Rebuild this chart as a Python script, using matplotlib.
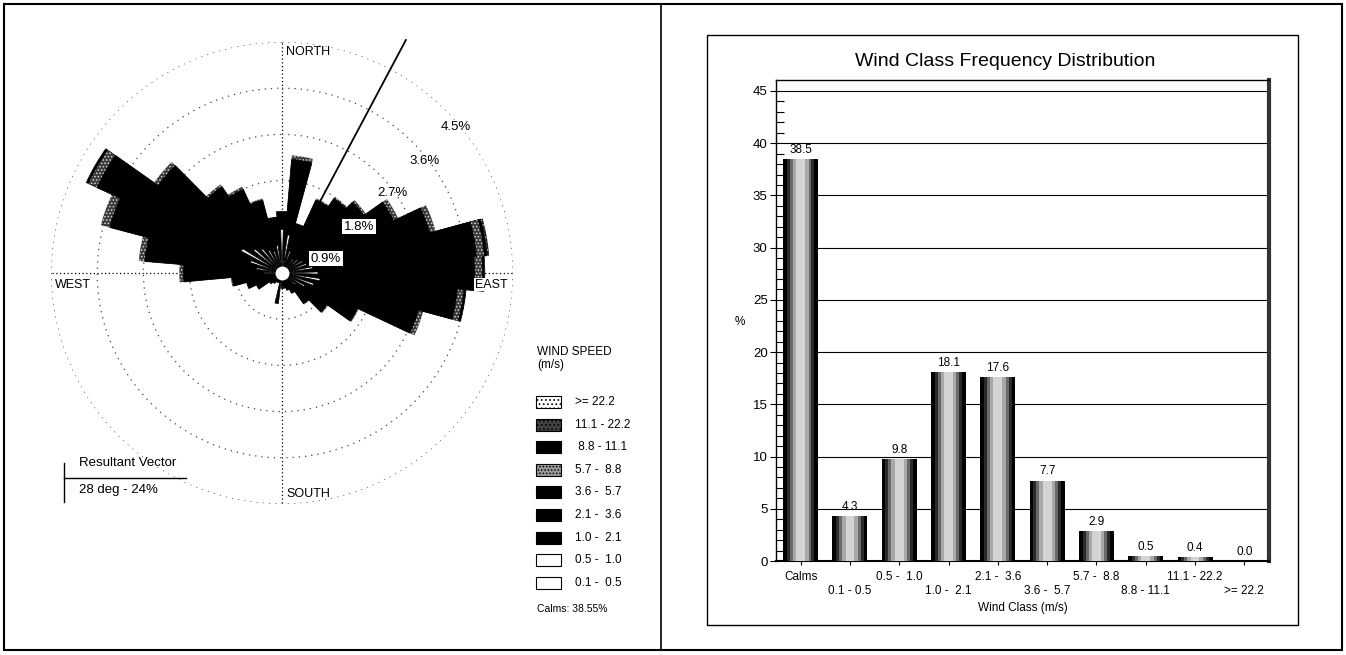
import numpy as np
import matplotlib
matplotlib.use("Agg")
import matplotlib.pyplot as plt
from matplotlib.patches import Rectangle
from matplotlib.lines import Line2D

plt.rcParams['font.family'] = ['Liberation Sans', 'DejaVu Sans']
plt.rcParams['hatch.linewidth'] = 0.7

W, H = 1346, 655

# ---- wind rose data: 36 directions, % per speed class ----
directions = np.arange(0, 360, 10)
c01_05 = [.35, .30, .15, .10, .10, .10, .15, .15, .20, .25, .25, .20, .15, .10, .05, .03, .02, .02,
          .02, .02, .02, .02, .02, .02, .02, .02, .02, .10, .15, .20, .30, .20, .20, .15, .15, .20]
c05_10 = [.50, .45, .30, .25, .25, .30, .30, .35, .40, .45, .50, .45, .35, .25, .15, .07, .03, .03,
          .03, .03, .03, .03, .03, .03, .03, .03, .03, .25, .35, .45, .60, .50, .40, .35, .30, .35]
c10_21 = [.15, .45, .25, .35, .40, .40, .50, .60, .80, .80, .70, .55, .35, .25, .20, .15, .15, .12,
          .25, .55, .08, .08, .10, .12, .20, .25, .35, .45, .55, .70, .75, .60, .45, .40, .35, .25]
c21_36 = [.15, .55, .20, .50, .55, .60, .75, .95, 1.2, 1.15, 1.0, .80, .45, .30, .20, .12, .10, .08,
          0, 0, .05, .05, .07, .08, .20, .25, .35, .60, .80, 1.0, 1.1, .85, .55, .50, .40, .20]
c36_57 = [.05, .47, .10, .37, .47, .55, .70, .93, 1.20, 1.10, .98, .75, .32, .17, .13, .06, .05, .05,
          0, 0, .02, .02, .03, .05, .10, .16, .22, .52, .83, 1.12, 1.22, .80, .45, .40, .27, .09]
c57_88 = [0, .08, 0, .03, .03, .05, .10, .12, .15, .15, .12, .10, .03, .03, .02, .02, 0, 0,
          0, 0, 0, 0, 0, 0, 0, .01, .03, .08, .12, .18, .18, .10, .05, .05, .03, .01]
c88_111 = [0, 0, 0, 0, 0, 0, 0, 0, .05, .05, .05, 0, 0, 0, 0, 0, 0, 0,
           0, 0, 0, 0, 0, 0, 0, 0, 0, 0, 0, 0, .05, 0, 0, 0, 0, 0]
c111_222 = [0, 0, 0, 0, 0, 0, 0, 0, .05, 0, 0, 0, 0, 0, 0, 0, 0, 0,
            0, 0, 0, 0, 0, 0, 0, 0, 0, 0, 0, 0, 0, 0, 0, 0, 0, 0]
c222 = [0] * 36

rose_classes = [c01_05, c05_10, c10_21, c21_36, c36_57, c57_88, c88_111, c111_222, c222]
legend_labels = ['>= 22.2', '11.1 - 22.2', ' 8.8 - 11.1', '5.7 -  8.8', '3.6 -  5.7',
                 '2.1 -  3.6', '1.0 -  2.1', '0.5 -  1.0', '0.1 -  0.5']
ring_values = [0.9, 1.8, 2.7, 3.6, 4.5]
resultant_deg = 28
resultant_len = 5.14
calms_text = 'Calms: 38.55%'

# ---- bar chart data ----
wind_classes = ['Calms', '0.1 - 0.5', '0.5 -  1.0', '1.0 -  2.1', '2.1 -  3.6',
                '3.6 -  5.7', '5.7 -  8.8', '8.8 - 11.1', '11.1 - 22.2', '>= 22.2']
class_freq = [38.5, 4.3, 9.8, 18.1, 17.6, 7.7, 2.9, 0.5, 0.4, 0.0]


def fx(x):
    return x / W


def fy(y):
    return 1 - y / H


fig = plt.figure(figsize=(W / 100, H / 100), dpi=100)

# class styles (inner -> outer)
widths = [2.6, 3.4, 6.5, 8.5, 10.4, 10.4, 10.4, 10.4, 10.4]
faces = ['white', 'white', 'black', 'black', 'black', '#3a3a3a', 'black', '#202020', 'white']
hatch_col = ['black', 'black', 'black', 'black', 'black', '#d8d8d8', 'black', '#9a9a9a', 'black']
hatches = [None, None, None, None, None, '.....', None, '....', '....']

# ---- wind rose ----
R = 231
cx, cy = 282, 273
ax = fig.add_axes([fx(cx - R), fy(cy + R), 2 * R / W, 2 * R / H], projection='polar')
ax.set_theta_zero_location('N')
ax.set_theta_direction(-1)
ax.set_ylim(0, 4.5)
ax.set_axisbelow(True)
ax.spines['polar'].set_visible(False)
ax.set_rgrids(ring_values, labels=[''] * 5)
ax.set_thetagrids([0, 90, 180, 270], labels=[''] * 4)
ax.yaxis.grid(True, color='#444444', linestyle=(0, (1, 4)), linewidth=0.9)
ax.xaxis.grid(True, color='black', linestyle=(0, (1, 2)), linewidth=0.9)

theta = np.deg2rad(directions)
cum = np.cumsum(np.array(rose_classes, dtype=float), axis=0)
for k in range(len(rose_classes) - 1, -1, -1):
    vals = np.array(rose_classes[k])
    heights = np.where(vals > 0, cum[k], 0)
    if hatches[k]:
        ax.bar(theta, heights, width=np.deg2rad(widths[k]), bottom=0, color=faces[k],
               edgecolor=hatch_col[k], linewidth=0, hatch=hatches[k], zorder=3)
    else:
        ax.bar(theta, heights, width=np.deg2rad(widths[k]), bottom=0,
               color=faces[k], edgecolor='black', linewidth=0.5, zorder=3)

ax.plot([np.deg2rad(resultant_deg)] * 2, [0, resultant_len], color='black', lw=1.3,
        clip_on=False, zorder=5)
ax.plot([0], [0], 'o', ms=9, mfc='white', mec='white', zorder=6)

# ring labels
lab_bearing = [72, 59, 54, 52, 50]
lab_r = [0.9, 1.75, 2.65, 3.53, 4.43]
for v, b, r in zip(ring_values, lab_bearing, lab_r):
    box = dict(fc='white', ec='none', pad=1) if v < 2 else None
    ax.text(np.deg2rad(b), r, f'{v:.1f}%', ha='center', va='center', fontsize=9.5,
            bbox=box, zorder=7)

ax.annotate('NORTH', xy=(0, 4.3), xytext=(3, 0), textcoords='offset points',
            ha='left', va='center', fontsize=9)
ax.annotate('WEST', xy=(np.deg2rad(270), 4.5), xytext=(3, -4), textcoords='offset points',
            ha='left', va='top', fontsize=9)
ax.annotate('EAST', xy=(np.deg2rad(90), 4.5), xytext=(-4, -4), textcoords='offset points',
            ha='right', va='top', fontsize=9, zorder=8,
            bbox=dict(fc='white', ec='none', pad=0.5))
ax.annotate('SOUTH', xy=(np.deg2rad(180), 4.5), xytext=(3, 3), textcoords='offset points',
            ha='left', va='bottom', fontsize=9)

# resultant vector key
fig.add_artist(Line2D([fx(64), fx(64)], [fy(463), fy(502)], color='black', lw=1))
fig.add_artist(Line2D([fx(64), fx(186)], [fy(478), fy(478)], color='black', lw=1))
fig.text(fx(79), fy(463), 'Resultant Vector', ha='left', va='center', fontsize=9.5)
fig.text(fx(79), fy(490), f'{resultant_deg} deg - 24%', ha='left', va='center', fontsize=9.5)

# speed legend
fig.text(fx(537), fy(352), 'WIND SPEED', ha='left', va='center', fontsize=8.5)
fig.text(fx(537), fy(365), '(m/s)', ha='left', va='center', fontsize=8.5)
leg_faces = ['white', '#404040', 'black', '#9a9a9a', 'black', 'black', 'black', 'white', 'white']
leg_hatch = ['....', '....', None, '.....', None, None, None, None, None]
for i, lab in enumerate(legend_labels):
    yc = 402 + i * 22.6
    fig.add_artist(Rectangle((fx(536), fy(yc + 6)), 25 / W, 12 / H, facecolor=leg_faces[i],
                             edgecolor='black', linewidth=0.8, hatch=leg_hatch[i]))
    fig.text(fx(575), fy(yc), lab, ha='left', va='center', fontsize=8.5)
fig.text(fx(537), fy(609), calms_text, ha='left', va='center', fontsize=7.5)

# ---- bar chart ----
ax2 = fig.add_axes([fx(776), fy(561), (1269 - 776) / W, (561 - 80) / H])
x = np.arange(len(wind_classes))
layers = [(0.71, 'black'), (0.56, '#2a2a2a'), (0.44, '#6a6a6a'), (0.32, '#a8a8a8'), (0.18, '#d4d4d4')]
for w, c in layers:
    ax2.bar(x, class_freq, width=w, color=c, linewidth=0, zorder=3)
for xi, v in zip(x, class_freq):
    ax2.text(xi, v + 0.3, f'{v:.1f}', ha='center', va='bottom', fontsize=8.5, zorder=4)

ax2.set_xlim(-0.5, len(wind_classes) - 0.5)
ax2.set_ylim(0, 46.05)
ax2.set_yticks(np.arange(0, 46, 5))
ax2.set_yticks(np.arange(0, 46, 1), minor=True)
ax2.tick_params(axis='y', which='major', direction='out', length=4, labelsize=9.5, pad=2)
ax2.tick_params(axis='y', which='minor', direction='in', length=6, width=0.8)
ax2.set_xticks(x)
ax2.set_xticklabels([l if i % 2 == 0 else '\n' + l for i, l in enumerate(wind_classes)],
                    fontsize=8.5, linespacing=1.2)
ax2.tick_params(axis='x', direction='out', length=3, pad=4)
ax2.yaxis.grid(True, color='black', linewidth=0.8, zorder=0)
ax2.set_axisbelow(True)
ax2.set_xlabel('Wind Class (m/s)', fontsize=8.5, labelpad=4)
for side in ['left', 'top']:
    ax2.spines[side].set_linewidth(1)
ax2.spines['bottom'].set_linewidth(1.5)
ax2.spines['right'].set_linewidth(3)
ax2.spines['right'].set_color('#333333')

fig.text(fx(1005), fy(62), 'Wind Class Frequency Distribution', ha='center', va='center', fontsize=14)
fig.text(fx(740), fy(322), '%', ha='center', va='center', fontsize=8.5)

# frames
fig.add_artist(Rectangle((fx(707), fy(625)), (1298 - 707) / W, (625 - 35) / H, fill=False,
                         edgecolor='black', linewidth=1))
fig.add_artist(Rectangle((fx(4), fy(650)), (1342 - 4) / W, (650 - 4) / H, fill=False,
                         edgecolor='black', linewidth=1.5))
fig.add_artist(Line2D([fx(661), fx(661)], [fy(4), fy(650)], color='black', lw=1.2))

fig.savefig('out.png', dpi=100)
